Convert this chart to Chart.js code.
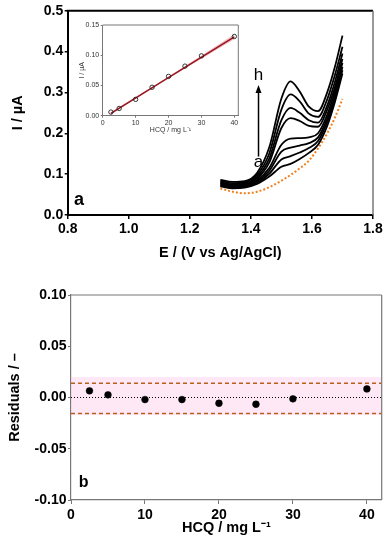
<!DOCTYPE html>
<html>
<head>
<meta charset="utf-8">
<script src="https://cdn.jsdelivr.net/npm/chart.js@4.4.1/dist/chart.umd.min.js"></script>
<style>
  body { margin: 0; background: #fff; }
  #wrap { position: relative; width: 390px; height: 550px; }
  canvas { position: absolute; }
  #cv { left: 0; top: 0; }
  #inset { left: 70px; top: 15px; }
  #resid { left: 0; top: 270px; }
</style>
</head>
<body>
<div id="wrap">
  <canvas id="cv" width="390" height="270"></canvas>
  <canvas id="inset" width="180" height="125"></canvas>
  <canvas id="resid" width="390" height="280"></canvas>
</div>
<script>
// panel a - voltammograms (a..h) and blank
const potential = [1.30, 1.34, 1.38, 1.42, 1.46, 1.50, 1.53, 1.56, 1.59, 1.62, 1.65, 1.675, 1.70];
const curveA = [0.070, 0.065, 0.067, 0.076, 0.094, 0.118, 0.125, 0.137, 0.152, 0.172, 0.218, 0.276, 0.346];
const curveB = [0.072, 0.067, 0.069, 0.079, 0.101, 0.136, 0.144, 0.153, 0.164, 0.181, 0.228, 0.284, 0.354];
const curveC = [0.074, 0.069, 0.071, 0.082, 0.108, 0.155, 0.165, 0.170, 0.176, 0.190, 0.236, 0.292, 0.362];
const curveD = [0.076, 0.071, 0.073, 0.085, 0.115, 0.172, 0.187, 0.188, 0.190, 0.200, 0.245, 0.302, 0.372];
const curveE = [0.078, 0.073, 0.075, 0.089, 0.128, 0.213, 0.237, 0.230, 0.218, 0.216, 0.258, 0.312, 0.382];
const curveF = [0.080, 0.075, 0.077, 0.093, 0.138, 0.232, 0.262, 0.250, 0.232, 0.226, 0.268, 0.325, 0.395];
const curveG = [0.083, 0.078, 0.080, 0.098, 0.150, 0.258, 0.295, 0.278, 0.248, 0.240, 0.283, 0.342, 0.412];
const curveH = [0.086, 0.081, 0.083, 0.103, 0.165, 0.285, 0.327, 0.302, 0.265, 0.254, 0.300, 0.362, 0.439];
const blank  = [0.065, 0.057, 0.053, 0.057, 0.068, 0.084, 0.098, 0.114, 0.133, 0.163, 0.200, 0.238, 0.284];
const eTicks = [0.8, 1.0, 1.2, 1.4, 1.6, 1.8];
const iTicks = [0, 0.1, 0.2, 0.3, 0.4, 0.5];

// inset - calibration
const hcq = [2.5, 5, 10, 15, 20, 25, 30, 40];
const peakI = [0.006, 0.012, 0.027, 0.047, 0.065, 0.082, 0.099, 0.131];
const fitX = [2.5, 18, 40];
const fitY = [0.004, 0.0563, 0.1305];
const fitHi = [0.006, 0.0573, 0.1345];
const fitLo = [0.002, 0.0553, 0.1265];
const insetXTicks = [0, 10, 20, 30, 40];
const insetYTicks = [0, 0.05, 0.10, 0.15];

// panel b - residuals
const residuals = [0.0065, 0.0026, -0.002, -0.002, -0.0056, -0.0066, -0.0013, 0.0084];
const limitHi = 0.014, limitLo = -0.0155;
const bandHi = 0.020, bandLo = -0.017;
const residXTicks = [0, 10, 20, 30, 40];
const residYTicks = [-0.10, -0.05, 0, 0.05, 0.10];

const fam = "'Liberation Sans', Arial, Helvetica, sans-serif";
const font = (size, weight) => ({ family: fam, size: size, weight: weight || 'normal' });
const pts = (xs, ys) => xs.map((x, i) => ({ x: x, y: ys[i] }));
const flat = (x0, x1, v) => [{ x: x0, y: v }, { x: x1, y: v }];
const fixTicks = vals => scale => { scale.ticks = vals.map(v => ({ value: v })); };

// extra frame edges, arrow and letters
const decor = {
  id: 'decor',
  afterDraw(chart, args, o) {
    const ctx = chart.ctx, a = chart.chartArea, x = chart.scales.x, y = chart.scales.y;
    ctx.save();
    (o.edges || []).forEach(e => {
      ctx.strokeStyle = e.color; ctx.lineWidth = e.width;
      ctx.beginPath();
      if (e.side === 'top') { ctx.moveTo(a.left - 1, a.top); ctx.lineTo(a.right, a.top); }
      else { ctx.moveTo(a.right, a.top); ctx.lineTo(a.right, a.bottom); }
      ctx.stroke();
    });
    (o.arrows || []).forEach(ar => {
      const px = x.getPixelForValue(ar.x);
      const y0 = y.getPixelForValue(ar.from), y1 = y.getPixelForValue(ar.to);
      ctx.strokeStyle = '#000'; ctx.fillStyle = '#000'; ctx.lineWidth = 1.5;
      ctx.beginPath(); ctx.moveTo(px, y0); ctx.lineTo(px, y1 + 6); ctx.stroke();
      ctx.beginPath(); ctx.moveTo(px, y1); ctx.lineTo(px - 3, y1 + 8); ctx.lineTo(px + 3, y1 + 8); ctx.closePath(); ctx.fill();
    });
    (o.texts || []).forEach(t => {
      ctx.font = (t.weight || 'normal') + ' ' + t.size + 'px ' + fam;
      ctx.fillStyle = '#000'; ctx.textAlign = 'center'; ctx.textBaseline = 'middle';
      ctx.fillText(t.text, x.getPixelForValue(t.x), y.getPixelForValue(t.y));
    });
    ctx.restore();
  }
};

// note: chart.js paints datasets last-to-first, so the top layer goes first
const curves = [curveH, curveG, curveF, curveE, curveD, curveC, curveB, curveA];
const mainSets = curves.map(c => ({
  data: pts(potential, c), showLine: true, borderColor: '#000', borderWidth: 1.8,
  pointRadius: 0, cubicInterpolationMode: 'monotone'
}));
mainSets.push({
  data: pts(potential, blank), showLine: true, borderColor: '#f0801e', borderWidth: 2,
  borderDash: [2, 2], pointRadius: 0, cubicInterpolationMode: 'monotone'
});

new Chart(document.getElementById('cv'), {
  type: 'scatter',
  data: { datasets: mainSets },
  plugins: [decor],
  options: {
    responsive: false, animation: false,
    layout: { padding: { left: 0, top: 10.7, right: 17, bottom: 0 } },
    plugins: {
      legend: { display: false }, tooltip: { enabled: false },
      decor: {
        edges: [{ side: 'top', color: '#000', width: 2 }, { side: 'right', color: '#777', width: 1.5 }],
        arrows: [{ x: 1.425, from: 0.143, to: 0.318 }],
        texts: [
          { text: 'h', x: 1.425, y: 0.342, size: 17 },
          { text: 'a', x: 1.425, y: 0.128, size: 17 },
          { text: 'a', x: 0.837, y: 0.036, size: 18, weight: 'bold' }
        ]
      }
    },
    scales: {
      x: {
        type: 'linear', min: 0.8, max: 1.8,
        afterBuildTicks: fixTicks(eTicks),
        afterFit: s => { s.height = 55; },
        border: { color: '#000', width: 2 },
        grid: { drawOnChartArea: false, color: '#000', tickLength: 4, lineWidth: 1.5 },
        ticks: { color: '#000', font: font(14, 'bold'), padding: 2, maxRotation: 0, callback: v => v.toFixed(1) },
        title: { display: true, text: 'E / (V vs Ag/AgCl)', color: '#000', font: font(14.5, 'bold'), padding: { top: 0, bottom: 8.3 } }
      },
      y: {
        min: 0, max: 0.5,
        afterBuildTicks: fixTicks(iTicks),
        afterFit: s => { s.width = 67.7; },
        border: { color: '#000', width: 2 },
        grid: { drawOnChartArea: false, color: '#000', tickLength: 3, lineWidth: 1.5 },
        ticks: { color: '#000', font: font(14, 'bold'), padding: 1.5, callback: v => v.toFixed(1) },
        title: { display: true, text: 'I / µA', color: '#000', font: font(14.5, 'bold'), padding: { top: 9.6, bottom: 0 } }
      }
    }
  }
});

new Chart(document.getElementById('inset'), {
  type: 'scatter',
  data: {
    datasets: [
      { data: pts(hcq, peakI), pointRadius: 2.2, pointBorderWidth: 0.9, pointBorderColor: '#222', pointBackgroundColor: 'rgba(255,255,255,0)' },
      { data: pts(fitX, fitY), showLine: true, borderColor: '#9b1420', borderWidth: 1.5, pointRadius: 0 },
      { data: pts(fitX, fitLo), showLine: true, borderWidth: 0, pointRadius: 0 },
      { data: pts(fitX, fitHi), showLine: true, borderWidth: 0, pointRadius: 0, fill: '-1', backgroundColor: 'rgba(215,110,120,0.45)' }
    ]
  },
  options: {
    responsive: false, animation: false,
    layout: { padding: { left: 0, top: 10, right: 11.7, bottom: 0 } },
    plugins: { legend: { display: false }, tooltip: { enabled: false }, decor: false },
    scales: {
      x: {
        type: 'linear', min: 0, max: 41.2,
        afterBuildTicks: fixTicks(insetXTicks),
        afterFit: s => { s.height = 24.3; },
        border: { color: '#777', width: 1 },
        grid: { drawOnChartArea: false, color: '#777', tickLength: 2 },
        ticks: { color: '#333', font: font(7), padding: 1, maxRotation: 0 },
        title: { display: true, text: 'HCQ / mg L⁻¹', color: '#333', font: font(7), padding: { top: 0, bottom: 5.8 } }
      },
      y: {
        min: 0, max: 0.15,
        afterBuildTicks: fixTicks(insetYTicks),
        afterFit: s => { s.width = 32.7; },
        border: { color: '#777', width: 1 },
        grid: { drawOnChartArea: false, color: '#777', tickLength: 2 },
        ticks: { color: '#333', font: font(7), padding: 1.5, callback: v => v.toFixed(2) },
        title: { display: true, text: 'I / µA', color: '#333', font: font(7), padding: { top: 8.3, bottom: 0 } }
      }
    }
  },
  plugins: [{
    id: 'insetFrame',
    afterDraw(chart) {
      const ctx = chart.ctx, a = chart.chartArea;
      ctx.save(); ctx.strokeStyle = '#777'; ctx.lineWidth = 1;
      ctx.beginPath(); ctx.moveTo(a.left, a.top); ctx.lineTo(a.right, a.top); ctx.lineTo(a.right, a.bottom); ctx.stroke();
      ctx.restore();
    }
  }]
});

new Chart(document.getElementById('resid'), {
  type: 'scatter',
  data: {
    datasets: [
      { data: pts(hcq, residuals), backgroundColor: '#000', borderColor: '#000', pointRadius: 3.4, pointBorderWidth: 0.5, pointBorderColor: '#000', pointBackgroundColor: '#000' },
      { data: flat(0, 42, 0), showLine: true, borderColor: '#000', borderWidth: 1, borderDash: [1, 2], pointRadius: 0 },
      { data: flat(0, 42, limitHi), showLine: true, borderColor: '#b8601e', borderWidth: 1.5, borderDash: [4, 3], pointRadius: 0 },
      { data: flat(0, 42, limitLo), showLine: true, borderColor: '#b8601e', borderWidth: 1.5, borderDash: [4, 3], pointRadius: 0 },
      { data: flat(0, 42, bandLo), showLine: true, borderWidth: 0, pointRadius: 0 },
      { data: flat(0, 42, bandHi), showLine: true, borderWidth: 0, pointRadius: 0, fill: '-1', backgroundColor: 'rgba(255,205,235,0.45)' }
    ]
  },
  plugins: [decor],
  options: {
    responsive: false, animation: false,
    layout: { padding: { left: 0, top: 25, right: 8.3, bottom: 0 } },
    plugins: {
      legend: { display: false }, tooltip: { enabled: false },
      decor: {
        edges: [{ side: 'top', color: '#777', width: 1.2 }, { side: 'right', color: '#777', width: 1.2 }],
        texts: [{ text: 'b', x: 1.7, y: -0.0835, size: 16, weight: 'bold' }]
      }
    },
    scales: {
      x: {
        type: 'linear', min: 0, max: 42,
        afterBuildTicks: fixTicks(residXTicks),
        afterFit: s => { s.height = 50; },
        border: { color: '#777', width: 1.2 },
        grid: { drawOnChartArea: false, color: '#777', tickLength: 4 },
        ticks: { color: '#000', font: font(14, 'bold'), padding: 3, maxRotation: 0 },
        title: { display: true, text: 'HCQ / mg L⁻¹', color: '#000', font: font(14.5, 'bold'), padding: { top: 0, bottom: 13.3 } }
      },
      y: {
        min: -0.1, max: 0.1,
        afterBuildTicks: fixTicks(residYTicks),
        afterFit: s => { s.width = 71; },
        border: { color: '#777', width: 1.2 },
        grid: { drawOnChartArea: false, color: '#777', tickLength: 3 },
        ticks: { color: '#000', font: font(14, 'bold'), padding: 1.5, callback: v => v.toFixed(2) },
        title: { display: true, text: 'Residuals / –', color: '#000', font: font(14.5, 'bold'), padding: { top: 6.3, bottom: 0 } }
      }
    }
  }
});
</script>
</body>
</html>
